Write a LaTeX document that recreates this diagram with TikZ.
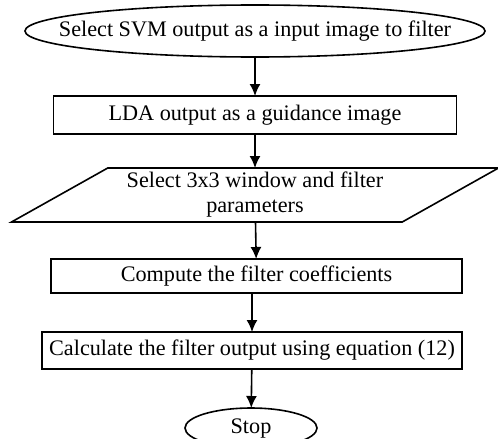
\documentclass[tikz,border=0pt]{standalone}
\usepackage{fontspec}
\setmainfont{Liberation Serif}
\usetikzlibrary{arrows.meta,positioning,shapes.geometric}

\begin{document}
\begin{tikzpicture}[node distance=19.5pt, line width=0.8pt,
        every node/.style={font=\fontsize{11.1pt}{12.5pt}\selectfont, draw, inner sep=0pt, outer sep=0pt},
        terminal/.style={ellipse},
        process/.style={rectangle},
        io/.style={trapezium, trapezium left angle=29, trapezium right angle=151,
            trapezium stretches body, align=center, inner sep=2pt},
        arr/.style={-{Latex[length=6pt,width=5.5pt]}}]
        \useasboundingbox (0,0) rectangle (249pt,-219.5pt);
        \node (start) [terminal, minimum width=230pt, minimum height=26pt] at (127.5pt,-15.5pt)
            {\makebox[162pt]{Select SVM output as a input image to filter}};
        \node (guide) [process, below=of start, minimum width=201.5pt, minimum height=19pt]
            {LDA output as a guidance image};
        \node (window) [io, below=17pt of guide, minimum width=243.5pt, minimum height=27pt]
            {Select 3x3 window and filter\\parameters};
        \node (coef) [process, below=18.5pt of window, xshift=0.75pt, minimum width=205.5pt, minimum height=17pt]
            {Compute the filter coefficients};
        \node (calc) [process, below=of coef, xshift=-2.25pt, minimum width=210pt, minimum height=18.5pt]
            {Calculate the filter output using equation (12)};
        \node (stop) [terminal, below=of calc, xshift=-0.5pt, minimum width=66pt, minimum height=20pt] {Stop};
        \draw[arr] (start) -- (guide);
        \draw[arr] (guide) -- (window);
        \draw[arr] (window) -- (coef);
        \draw[arr] (calc.north |- coef.south) -- (calc.north);
        \draw[arr] (calc) -- (stop);
    \end{tikzpicture}
\end{document}
